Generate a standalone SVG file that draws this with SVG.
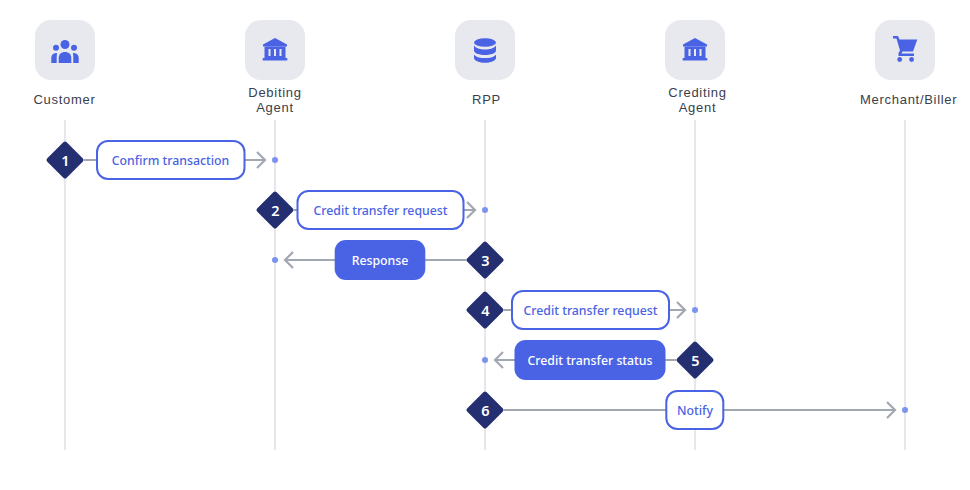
<svg xmlns="http://www.w3.org/2000/svg" width="970" height="490" viewBox="0 0 970 490">
<style>
text{font-family:"Noto Sans","Liberation Sans",sans-serif;text-anchor:middle}
.tile{fill:#e8e9ee}
.ic{fill:#4a63e4}
text.name{font-family:"Liberation Sans",sans-serif;font-size:13px;letter-spacing:.7px;fill:#3a404c}
.life{stroke:#e6e7ed;stroke-width:2;fill:none}
.line{stroke:#a2a8b2;stroke-width:2.2;fill:none}
.dot{fill:#7b93ee}
.dia{fill:#232f70;stroke:#232f70;stroke-width:4;stroke-linejoin:round}
.num{font-size:14.5px;font-weight:600;fill:#fff}
.out{fill:#fff;stroke:#4a63e4;stroke-width:2}
.fil{fill:#4a63e4}
.lo{font-size:12.3px;font-weight:500;fill:#4a63e4}
.lf{font-size:12.3px;font-weight:500;fill:#fff}
</style>
<defs>
<rect id="t" class="tile" x="-30" y="-30" width="60" height="60" rx="16"/>
<g id="bank"><path class="ic" d="M0-12 12-5.500V-3.500H-12V-5.500Z"/><path class="ic" d="M-10.500-3.500H10.500V8.500H-10.500Z"/><rect class="ic" x="-12.300" y="8" width="24.600" height="2.500"/><path fill="#e8e9ee" d="M-6.500-1h2V6h-2ZM-1-1h2V6h-2ZM4.500-1h2V6h-2Z"/></g>
<path id="d" class="dia" d="M0-16.500 16.500 0 0 16.500-16.500 0Z"/>
</defs>
<g id="connectors">
<path class="life" d="M65 120V450M275 120V450M485 120V450M695 120V450M905 120V450"/>
<path class="line" d="M84 160H265M257 152l8 8-8 8"/>
<path class="line" d="M294 210H475M467 202l8 8-8 8"/>
<path class="line" d="M466 260H285M293 252l-8 8 8 8"/>
<path class="line" d="M504 310H685M677 302l8 8-8 8"/>
<path class="line" d="M676 360H495M503 352l-8 8 8 8"/>
<path class="line" d="M504 410H895M887 402l8 8-8 8"/>
<g class="dot"><circle cx="275" cy="160" r="3"/><circle cx="485" cy="210" r="3"/><circle cx="275" cy="260" r="3"/><circle cx="695" cy="310" r="3"/><circle cx="485" cy="360" r="3"/><circle cx="905" cy="410" r="3"/></g>
</g>
<g id="customer"><use href="#t" x="65" y="50"/><circle class="ic" cx="65" cy="44.500" r="4.500"/><circle class="ic" cx="56" cy="47.700" r="3"/><circle class="ic" cx="74" cy="47.700" r="3"/><path class="ic" d="M58.700 63V58C58.700 54 61.500 52 65 52S71.300 54 71.300 58V63Z"/><path class="ic" d="M51.300 63V58C51.300 55 53 53.500 56 53L57.200 53.300C56.700 55 56.700 56.500 56.700 58V63Z"/><path class="ic" d="M78.700 63V58C78.700 55 77 53.500 74 53L72.800 53.300C73.300 55 73.300 56.500 73.300 58V63Z"/><text class="name" x="64.500" y="103.500">Customer</text></g>
<g id="debiting-agent"><use href="#t" x="275" y="50"/><use href="#bank" x="275" y="50"/><text class="name" x="275" y="96.500">Debiting<tspan x="275" dy="15">Agent</tspan></text></g>
<g id="rpp"><use href="#t" x="485" y="50"/><ellipse class="ic" cx="485" cy="42.500" rx="11" ry="4.300"/><path class="ic" d="M474 45.500C476 48.500 481 49.500 485 49.500S494 48.500 496 45.500V50.500C496 53.500 490 55 485 55S474 53.500 474 50.500Z"/><path class="ic" d="M474 54.500C476 57.500 481 58 485 58S494 57.500 496 54.500V58C496 61 490 62.800 485 62.800S474 61 474 58Z"/><text class="name" x="486.500" y="103.500">RPP</text></g>
<g id="crediting-agent"><use href="#t" x="695" y="50"/><use href="#bank" x="695" y="50"/><text class="name" x="697.500" y="96.500">Crediting<tspan x="697.500" dy="15">Agent</tspan></text></g>
<g id="merchant-biller"><use href="#t" x="905" y="50"/><path class="ic" d="M893 36H898L899.500 39.500H917.300L913 51.500H902.500L901.500 53.500H914V56H898.500V53L900 50.500 896.500 38.500H893Z"/><circle class="ic" cx="899.700" cy="59.500" r="2.400"/><circle class="ic" cx="911.600" cy="59.500" r="2.400"/><text class="name" x="908.700" y="103.500">Merchant/Biller</text></g>
<g id="step-1"><use href="#d" x="65" y="160"/><text class="num" x="65.500" y="165.500">1</text></g>
<g id="step-2"><use href="#d" x="275" y="210"/><text class="num" x="275.500" y="215.500">2</text></g>
<g id="step-3"><use href="#d" x="485" y="260"/><text class="num" x="485.500" y="265.500">3</text></g>
<g id="step-4"><use href="#d" x="485" y="310"/><text class="num" x="485.500" y="315.500">4</text></g>
<g id="step-5"><use href="#d" x="695" y="360"/><text class="num" x="695.500" y="365.500">5</text></g>
<g id="step-6"><use href="#d" x="485" y="410"/><text class="num" x="485.500" y="415.500">6</text></g>
<g id="confirm-transaction"><rect class="out" x="97" y="141" width="147.500" height="38" rx="11"/><text class="lo" x="170.500" y="165">Confirm transaction</text></g>
<g id="credit-transfer-request-1"><rect class="out" x="297.500" y="191" width="166" height="38" rx="11"/><text class="lo" x="380.500" y="215">Credit transfer request</text></g>
<g id="response"><rect class="fil" x="334.700" y="240" width="90.600" height="40" rx="11"/><text class="lf" x="380" y="265">Response</text></g>
<g id="credit-transfer-request-2"><rect class="out" x="512" y="291" width="157" height="38" rx="11"/><text class="lo" x="590.500" y="315">Credit transfer request</text></g>
<g id="credit-transfer-status"><rect class="fil" x="514.500" y="340" width="151" height="40" rx="11"/><text class="lf" x="590" y="365">Credit transfer status</text></g>
<g id="notify"><rect class="out" x="666.300" y="391" width="57" height="38" rx="11"/><text class="lo" x="695" y="415">Notify</text></g>
</svg>
